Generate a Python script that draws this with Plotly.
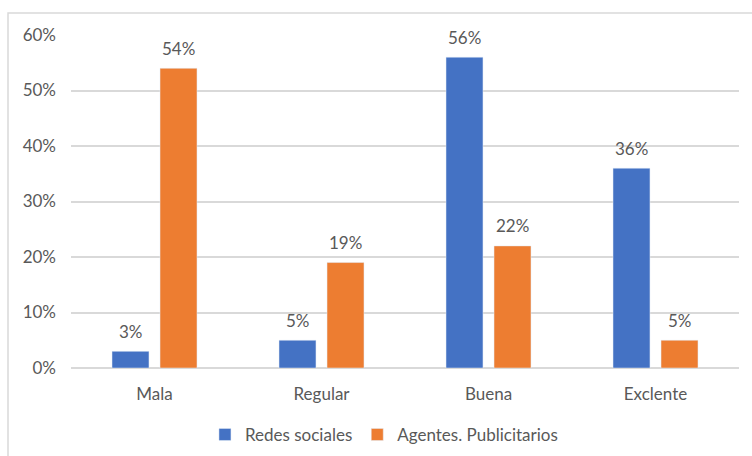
import plotly.graph_objects as go

categories = ["Mala", "Regular", "Buena", "Exclente"]
redes = [0.03, 0.05, 0.56, 0.36]
agentes = [0.54, 0.19, 0.22, 0.05]
series_names = ["Redes sociales", "Agentes. Publicitarios"]
colors = ["#4472C4", "#ED7D31"]

FONT = "Lato, Carlito, 'Open Sans', sans-serif"
GRAY = "#595959"
FS = 17

fig = go.Figure()
annotations = []
for vals, name, col, shift in [(redes, series_names[0], colors[0], -24), (agentes, series_names[1], colors[1], 24)]:
    fig.add_trace(go.Bar(x=categories, y=vals, name=name, marker_color=col))
    for c, v in zip(categories, vals):
        annotations.append(dict(x=c, y=v, xref="x", yref="y", text=f"{v*100:.0f}%",
                                showarrow=False, xshift=shift, yshift=20, yanchor="middle",
                                font=dict(size=FS, color=GRAY, family=FONT)))

fig.update_layout(
    width=752, height=456,
    margin=dict(l=71, r=13, t=35, b=88, autoexpand=False),
    paper_bgcolor="white", plot_bgcolor="white",
    barmode="group", bargap=0.425, bargroupgap=0.23,
    font=dict(family=FONT, color=GRAY, size=FS),
    showlegend=True,
    legend=dict(orientation="h", x=0.4685, xanchor="center", y=-0.201, yanchor="middle",
                font=dict(size=FS, color=GRAY), itemwidth=30, traceorder="normal"),
    yaxis=dict(range=[0, 0.6], dtick=0.1, tickformat=".0%", showgrid=True, automargin=False,
               gridcolor="#D9D9D9", gridwidth=1.5, zeroline=True, zerolinecolor="#D9D9D9",
               zerolinewidth=1.5, ticks="", ticklabelstandoff=14, tickfont=dict(size=FS, color=GRAY)),
    xaxis=dict(showline=False, ticks="", automargin=False, ticklabelstandoff=14,
               tickfont=dict(size=FS, color=GRAY)),
    annotations=annotations,
    shapes=[dict(type="rect", xref="paper", yref="paper", x0=-0.0943, x1=1.2, y0=-0.6, y1=1.066,
                 line=dict(color="#D9D9D9", width=1.5), fillcolor="rgba(0,0,0,0)", layer="below")],
)

fig.write_html("out.html")
